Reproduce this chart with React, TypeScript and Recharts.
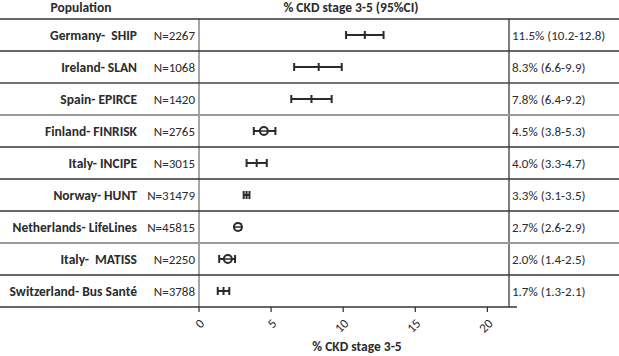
import React from 'react';
import { ComposedChart, Scatter, XAxis, YAxis, ErrorBar, ReferenceLine } from 'recharts';

const populations = ['Germany-  SHIP', 'Ireland- SLAN', 'Spain- EPIRCE', 'Finland- FINRISK', 'Italy- INCIPE', 'Norway- HUNT', 'Netherlands- LifeLines', 'Italy-  MATISS', 'Switzerland- Bus Santé'];
const sampleSizes = ['N=2267', 'N=1068', 'N=1420', 'N=2765', 'N=3015', 'N=31479', 'N=45815', 'N=2250', 'N=3788'];
const estimates = [11.5, 8.3, 7.8, 4.5, 4.0, 3.3, 2.7, 2.0, 1.7];
const lowerCI = [10.2, 6.6, 6.4, 3.8, 3.3, 3.1, 2.6, 1.4, 1.3];
const upperCI = [12.8, 9.9, 9.2, 5.3, 4.7, 3.5, 2.9, 2.5, 2.1];
const circleMarker = [false, false, false, true, false, false, true, true, false];
const xTicks = [0, 5, 10, 15, 20];

const rows = populations.map((name, i) => ({
  name,
  n: sampleSizes[i],
  est: estimates[i],
  err: [+(estimates[i] - lowerCI[i]).toFixed(2), +(upperCI[i] - estimates[i]).toFixed(2)],
  label: `${estimates[i].toFixed(1)}% (${lowerCI[i].toFixed(1)}-${upperCI[i].toFixed(1)})`,
  circle: circleMarker[i],
}));

const W = 619;
const H = 356;
const M = { top: 19, right: 110, bottom: 0, left: 0 };
const X_AXIS_H = 49;
const Y_AXIS_W = 199;
const ROW_H = (H - M.top - M.bottom - X_AXIS_H) / rows.length;
const FONT = 'Carlito, Lato, sans-serif';
const DARK = '#2b2b2b';
const lineColors = ['#333', '#333', '#444', '#999', '#333', '#333', '#333', '#999', '#333', '#333'];
const lineWidths = [1.5, 1.5, 1.5, 2.2, 1.5, 1.5, 1.5, 2.2, 1.5, 1.5];

const YTick = (props: any) => {
  const { y, index } = props;
  const d = rows[index];
  const half = ROW_H / 2;
  const last = index === rows.length - 1;
  return (
    <g>
      {index === 0 && (
        <line x1={0} x2={W} y1={y - half} y2={y - half} stroke={lineColors[0]} strokeWidth={lineWidths[0]} />
      )}
      <line x1={0} x2={last ? 517 : W} y1={y + half} y2={y + half} stroke={lineColors[index + 1]} strokeWidth={lineWidths[index + 1]} />
      <text x={137} y={y} dy="0.35em" textAnchor="end" fontWeight="bold" fontSize={13.5} fill={DARK} fontFamily={FONT} style={{ whiteSpace: 'pre' }}>{d.name}</text>
      <text x={195} y={y} dy="0.35em" textAnchor="end" fontSize={13} fill={DARK} fontFamily={FONT}>{d.n}</text>
      <text x={512} y={y} dy="0.35em" textAnchor="start" fontSize={13} fill={DARK} fontFamily={FONT}>{d.label}</text>
    </g>
  );
};

const XTick = (props: any) => {
  const { x, y, payload } = props;
  return (
    <text x={x + 3} y={y + 7} transform={`rotate(-45 ${x + 3} ${y + 7})`} textAnchor="end" dy="0.35em" fontSize={13} fill={DARK} fontFamily={FONT}>
      {payload.value}
    </text>
  );
};

const Marker = (props: any) => {
  const { cx, cy, payload } = props;
  if (payload.circle) {
    return (
      <g>
        <circle cx={cx} cy={cy} r={4} fill="#fff" stroke={DARK} strokeWidth={2} />
        <line x1={cx - 4} x2={cx + 4} y1={cy} y2={cy} stroke={DARK} strokeWidth={1.5} />
      </g>
    );
  }
  return <line x1={cx} x2={cx} y1={cy - 4} y2={cy + 4} stroke={DARK} strokeWidth={2} />;
};

export default function App() {
  const plotL = M.left + Y_AXIS_W;
  const plotR = W - M.right;
  const cx = (plotL + plotR) / 2;
  return (
    <div style={{ position: 'absolute', left: 0, top: 0, width: W, height: H, background: '#fff' }}>
      <ComposedChart width={W} height={H} data={rows} layout="vertical" margin={M}>
        <XAxis
          type="number"
          dataKey="est"
          domain={[0, 21.5]}
          ticks={xTicks}
          height={X_AXIS_H}
          axisLine={false}
          tickLine={{ stroke: DARK, strokeWidth: 1.2 }}
          tickSize={5}
          tick={<XTick />}
          interval={0}
        />
        <YAxis
          type="category"
          dataKey="name"
          scale="band"
          width={Y_AXIS_W}
          axisLine={{ stroke: '#8a8a8a', strokeWidth: 1.5 }}
          tickLine={false}
          tick={<YTick />}
          interval={0}
        />
        <ReferenceLine x={21.5} stroke={DARK} strokeWidth={1.2} />
        <Scatter dataKey="est" shape={<Marker />} isAnimationActive={false}>
          <ErrorBar dataKey="err" direction="x" width={4} stroke={DARK} strokeWidth={2} />
        </Scatter>
      </ComposedChart>
      <svg width={W} height={H} style={{ position: 'absolute', left: 0, top: 0, pointerEvents: 'none' }}>
        <text x={81} y={7} dy="0.35em" textAnchor="middle" fontWeight="bold" fontSize={13.5} fill={DARK} fontFamily={FONT}>Population</text>
        <text x={cx - 3} y={7} dy="0.35em" textAnchor="middle" fontWeight="bold" fontSize={13.5} fill={DARK} fontFamily={FONT}>% CKD stage 3-5 (95%CI)</text>
        <text x={cx + 3} y={346} dy="0.35em" textAnchor="middle" fontWeight="bold" fontSize={13.5} fill={DARK} fontFamily={FONT}>% CKD stage 3-5</text>
      </svg>
    </div>
  );
}
